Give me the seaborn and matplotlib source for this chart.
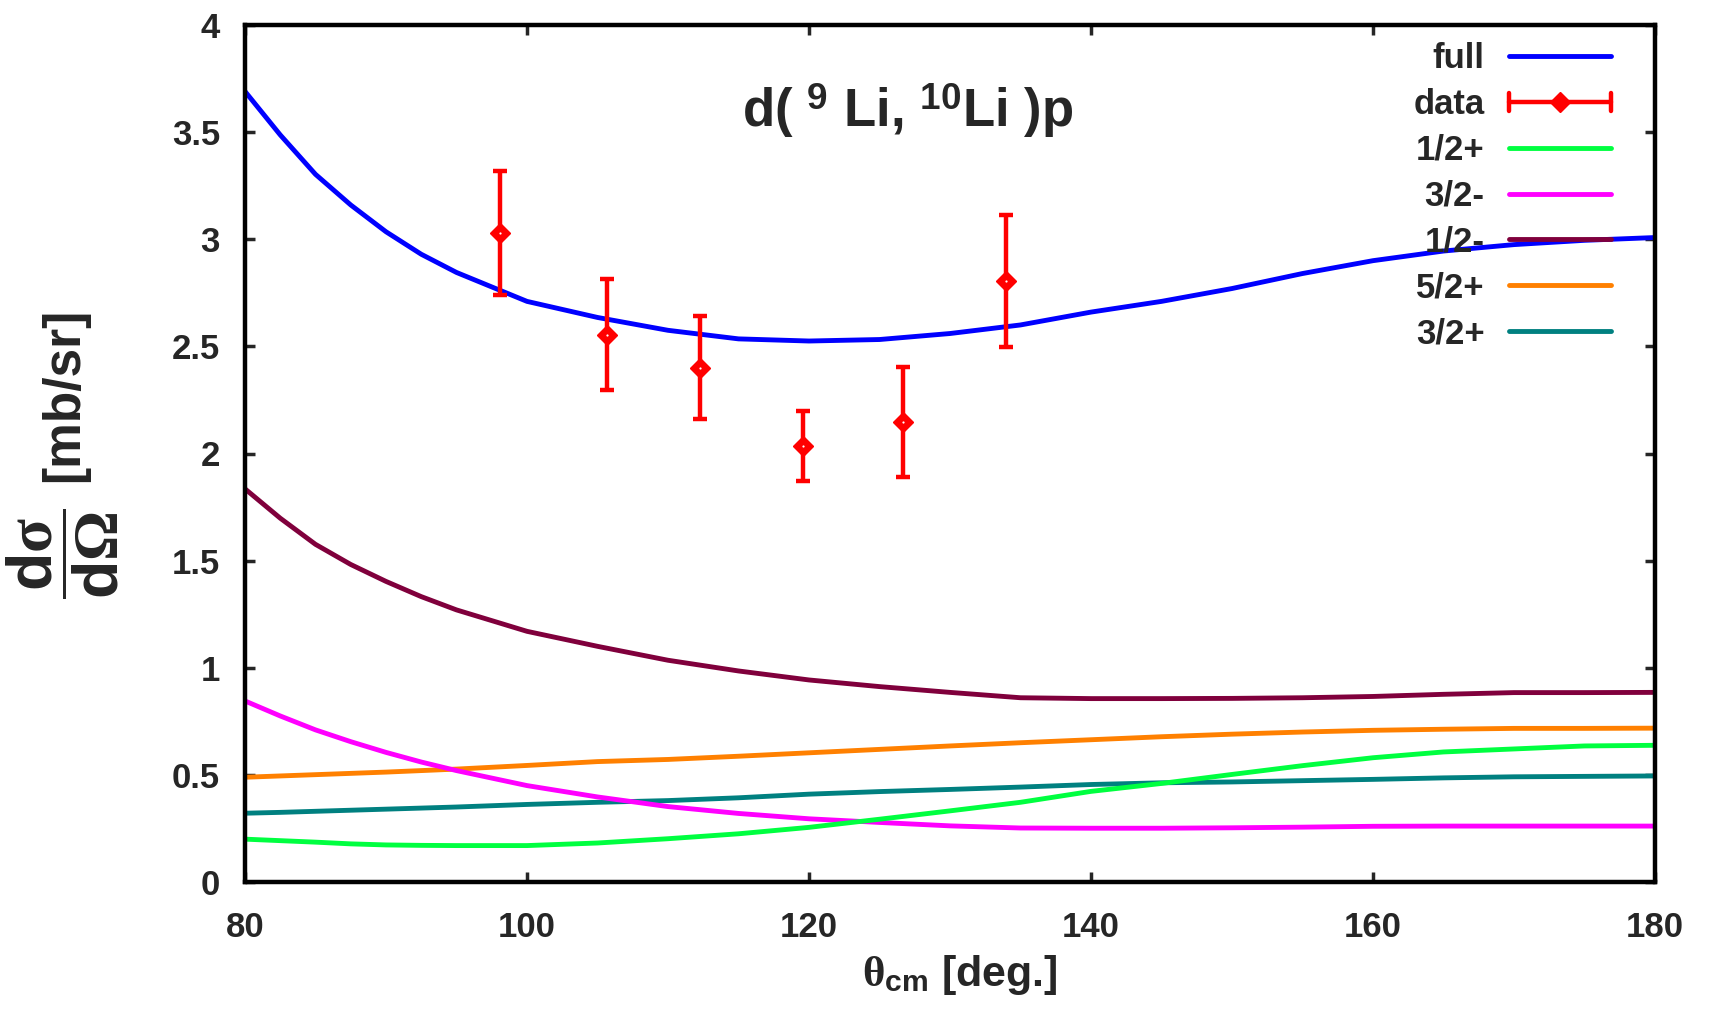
import matplotlib
matplotlib.use("Agg")
import matplotlib.pyplot as plt
from matplotlib.lines import Line2D
from matplotlib.legend_handler import HandlerBase
from matplotlib.ticker import FuncFormatter, MultipleLocator
import numpy as np
import pandas as pd
import seaborn as sns

# c.m. angle grid (deg) for the calculated curves
theta = [80, 82.5, 85, 87.5, 90, 92.5, 95, 100, 105, 110, 115, 120, 125,
         130, 135, 140, 145, 150, 155, 160, 165, 170, 175, 180]

# differential cross sections [mb/sr]
xs_full = [3.69, 3.487, 3.303, 3.16, 3.035, 2.93, 2.845, 2.71, 2.635, 2.575,
           2.535, 2.525, 2.532, 2.56, 2.60, 2.66, 2.71, 2.77, 2.84, 2.90,
           2.945, 2.975, 2.995, 3.008]
xs_half_plus = [0.20, 0.193, 0.186, 0.178, 0.173, 0.171, 0.17, 0.17, 0.182,
                0.202, 0.225, 0.255, 0.293, 0.332, 0.372, 0.423, 0.46, 0.502,
                0.543, 0.58, 0.607, 0.621, 0.635, 0.638]
xs_3half_minus = [0.845, 0.775, 0.71, 0.655, 0.605, 0.56, 0.52, 0.45, 0.397,
                  0.352, 0.32, 0.295, 0.278, 0.262, 0.252, 0.251, 0.251,
                  0.253, 0.256, 0.26, 0.261, 0.261, 0.261, 0.261]
xs_half_minus = [1.835, 1.698, 1.576, 1.482, 1.403, 1.332, 1.27, 1.17, 1.10,
                 1.035, 0.985, 0.943, 0.912, 0.885, 0.86, 0.856, 0.856,
                 0.857, 0.86, 0.866, 0.876, 0.884, 0.884, 0.885]
xs_5half_plus = [0.489, 0.495, 0.501, 0.507, 0.513, 0.52, 0.527, 0.544,
                 0.562, 0.572, 0.587, 0.603, 0.619, 0.635, 0.65, 0.664,
                 0.678, 0.69, 0.70, 0.708, 0.713, 0.717, 0.717, 0.718]
xs_3half_plus = [0.321, 0.325, 0.33, 0.335, 0.34, 0.345, 0.35, 0.362, 0.372,
                 0.38, 0.393, 0.41, 0.422, 0.432, 0.443, 0.455, 0.463, 0.467,
                 0.473, 0.479, 0.486, 0.491, 0.493, 0.495]

# measured points
theta_data = [98.1, 105.7, 112.3, 119.6, 126.7, 134.0]
xs_data = [3.03, 2.555, 2.40, 2.035, 2.147, 2.805]
xs_err = [0.29, 0.26, 0.24, 0.165, 0.255, 0.308]

curve_names = ["full", "1/2+", "3/2-", "1/2-", "5/2+", "3/2+"]
curve_values = [xs_full, xs_half_plus, xs_3half_minus, xs_half_minus,
                xs_5half_plus, xs_3half_plus]
curve_colors = {"full": "#0000FF", "1/2+": "#00FF40", "3/2-": "#FF00FF",
                "1/2-": "#80003C", "5/2+": "#FF8000", "3/2+": "#008080"}

df = pd.concat([pd.DataFrame({"theta": theta, "xs": v, "wave": n})
                for n, v in zip(curve_names, curve_values)], ignore_index=True)

sns.set_theme(style="ticks")
plt.rcParams["font.family"] = ["Liberation Sans", "DejaVu Sans"]
plt.rcParams["font.weight"] = "bold"
plt.rcParams["mathtext.fontset"] = "custom"
plt.rcParams["mathtext.rm"] = "Liberation Serif"
plt.rcParams["mathtext.it"] = "Liberation Serif:italic"
plt.rcParams["mathtext.bf"] = "Liberation Sans:bold"
plt.rcParams["mathtext.sf"] = "Liberation Sans"

fig = plt.figure(figsize=(17.1, 10.16), dpi=100)
ax = fig.add_axes([245 / 1710, 134 / 1016, 1410 / 1710, 857 / 1016])

LW = 3.5
sns.lineplot(data=df, x="theta", y="xs", hue="wave", palette=curve_colors,
             hue_order=curve_names[::-1], linewidth=LW, legend=False, ax=ax,
             sort=False, estimator=None)

RED = "#FF0000"
ax.errorbar(theta_data, xs_data, yerr=xs_err, fmt="D", color=RED,
            mfc=RED, mec=RED, ms=10, elinewidth=3.2, capsize=5,
            capthick=3.2, zorder=5)
ax.plot(theta_data, xs_data, "o", color="white", ms=1.6, mew=0, zorder=6)

ax.set_xlim(80, 180)
ax.set_ylim(0, 4)
ax.xaxis.set_major_locator(MultipleLocator(20))
ax.yaxis.set_major_locator(MultipleLocator(0.5))
ax.yaxis.set_major_formatter(FuncFormatter(lambda v, p: f"{v:g}"))
ax.tick_params(direction="in", length=7.5, width=2.5, labelsize=25,
               top=True, right=True)
ax.tick_params(axis="x", pad=21)
ax.tick_params(axis="y", pad=18)
for lab in ax.get_xticklabels() + ax.get_yticklabels():
    lab.set_fontweight("bold")
for sp in ax.spines.values():
    sp.set_linewidth(3.2)
    sp.set_color("black")

ax.set_xlabel(r"$\mathrm{\theta}_{\mathbf{cm}}$ [deg.]", fontsize=31,
              fontweight="bold")
ax.xaxis.set_label_coords(0.507, -0.083)

# y axis title: unit text plus a separate, larger d(sigma)/d(Omega) fraction
ylab = ax.set_ylabel("[mb/sr]", fontsize=37, fontweight="bold")
ylab.set_rotation_mode("default")
ylab.set_verticalalignment("center")
ax.yaxis.set_label_coords(-0.1277, 0.568)
ax.text(-0.129, 0.383,
        r"$\dfrac{\mathbf{d}\mathrm{\sigma}}{\mathbf{d}\mathrm{\Omega}}$",
        transform=ax.transAxes, rotation=90, ha="center", va="center",
        fontsize=45)

ax.text(0.47, 0.90, r"d( $^{\mathsf{9}}$ Li, $^{\mathsf{10}}$Li )p",
        transform=ax.transAxes, ha="center", va="center", fontsize=38,
        fontweight="bold")


class HandlerCappedData(HandlerBase):
    """Horizontal bar with end caps and a diamond at the centre."""

    def create_artists(self, legend, orig_handle, xdescent, ydescent,
                       width, height, fontsize, trans):
        y = height / 2 - ydescent
        x0, x1 = -xdescent, width - xdescent
        cap = height * 0.38
        kw = dict(color=RED, lw=3.2, solid_capstyle="round")
        arts = [Line2D([x0, x1], [y, y], **kw),
                Line2D([x0, x0], [y - cap, y + cap], **kw),
                Line2D([x1, x1], [y - cap, y + cap], **kw),
                Line2D([(x0 + x1) / 2], [y], marker="D", ms=10,
                       color=RED, mfc=RED, mec=RED, ls="none")]
        for a in arts:
            a.set_transform(trans)
        return arts


data_proxy = Line2D([], [], color=RED)
handles, labels = [], []
for n in curve_names:
    if n == "1/2+":
        handles.append(data_proxy)
        labels.append("data")
    handles.append(Line2D([], [], color=curve_colors[n], lw=LW,
                          solid_capstyle="round"))
    labels.append(n)

leg = ax.legend(handles, labels, loc="upper right",
                bbox_to_anchor=(0.969, 0.98), frameon=False, markerfirst=False,
                handlelength=2.95, handletextpad=0.7,
                labelspacing=0.37, borderpad=0, borderaxespad=0,
                handler_map={data_proxy: HandlerCappedData()},
                prop={"weight": "bold", "size": 25})

fig.savefig("out.png", dpi=100, facecolor="white")
